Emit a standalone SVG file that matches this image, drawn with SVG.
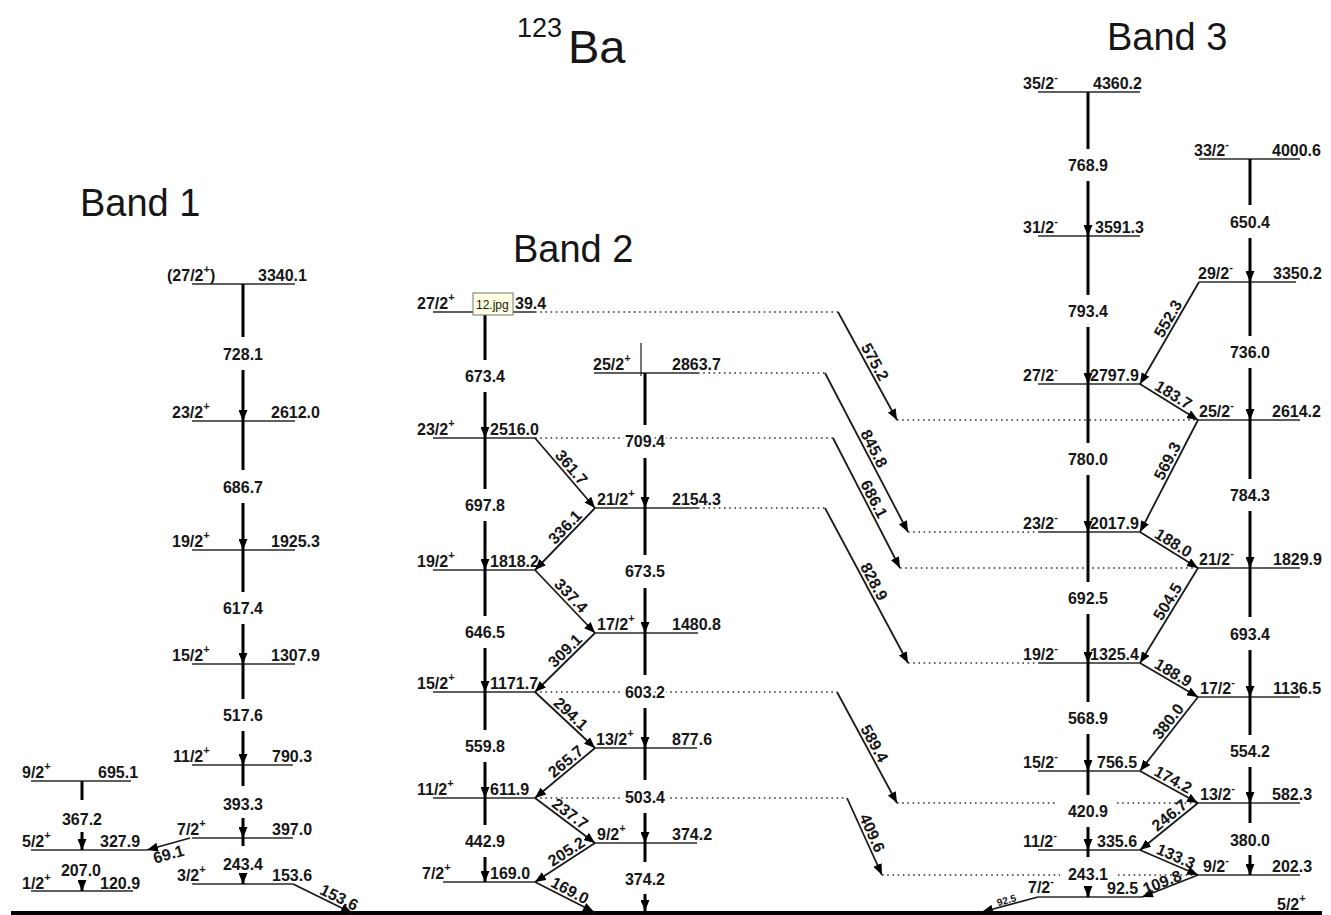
<svg xmlns="http://www.w3.org/2000/svg" width="1331" height="915" viewBox="0 0 1331 915">
<style>
text{font-family:"Liberation Sans",Arial,sans-serif;font-size:16px;font-weight:bold;fill:#161616}
.m{text-anchor:middle}
.s{font-size:11px}
.lv{stroke:#2a2a2a;stroke-width:1.6}
.tr{stroke:#000;stroke-width:3}
.dg{stroke:#1a1a1a;stroke-width:1.8}
.dt{stroke:#333;stroke-width:1.4;stroke-dasharray:1.6 3.6}
.h{stroke:#fff;stroke-width:5px;paint-order:stroke;stroke-linejoin:round}
.band{font-size:38px;font-weight:normal}
</style>
<defs>
<marker id="a" markerUnits="userSpaceOnUse" markerWidth="11" markerHeight="9" viewBox="0 0 11 9" refX="11" refY="4.5" orient="auto"><path d="M0,0L11,4.5L0,9z" fill="#000"/></marker>
</defs>
<rect width="1331" height="915" fill="#fff"/>

<g id="title"><text x="517" y="37" style="font-size:27px;font-weight:normal">123</text><text x="568" y="63" style="font-size:47px;font-weight:normal">Ba</text></g>
<g id="band-labels"><text class="band" x="80" y="216">Band 1</text><text class="band" x="513" y="262">Band 2</text><text class="band" x="1107" y="50">Band 3</text></g>

<g id="ground"><line x1="11" y1="913" x2="1322" y2="913" stroke="#000" stroke-width="4"/><text x="1277" y="910">5/2<tspan class="s" dy="-8">+</tspan></text></g>

<!-- Band 1 levels -->
<g id="lv-b1-3340"><line class="lv" x1="192" y1="284" x2="295" y2="284"/><text x="167" y="281">(27/2<tspan class="s" dy="-8">+</tspan><tspan dy="8">)</tspan></text><text x="258" y="281">3340.1</text></g>
<g id="lv-b1-2612"><line class="lv" x1="192" y1="421" x2="295" y2="421"/><text x="172" y="418">23/2<tspan class="s" dy="-8">+</tspan></text><text x="271" y="418">2612.0</text></g>
<g id="lv-b1-1925"><line class="lv" x1="192" y1="550" x2="295" y2="550"/><text x="172" y="547">19/2<tspan class="s" dy="-8">+</tspan></text><text x="271" y="547">1925.3</text></g>
<g id="lv-b1-1308"><line class="lv" x1="192" y1="664" x2="295" y2="664"/><text x="172" y="661">15/2<tspan class="s" dy="-8">+</tspan></text><text x="271" y="661">1307.9</text></g>
<g id="lv-b1-790"><line class="lv" x1="192" y1="765" x2="293" y2="765"/><text x="173" y="762">11/2<tspan class="s" dy="-8">+</tspan></text><text x="272" y="762">790.3</text></g>
<g id="lv-b1-397"><line class="lv" x1="192" y1="838" x2="293" y2="838"/><text x="177" y="835">7/2<tspan class="s" dy="-8">+</tspan></text><text x="272" y="835">397.0</text></g>
<g id="lv-b1-154"><line class="lv" x1="192" y1="884" x2="293" y2="884"/><text x="177" y="881">3/2<tspan class="s" dy="-8">+</tspan></text><text x="272" y="881">153.6</text></g>
<g id="lv-b1-695"><line class="lv" x1="31" y1="781" x2="131" y2="781"/><text x="22" y="778">9/2<tspan class="s" dy="-8">+</tspan></text><text x="98" y="778">695.1</text></g>
<g id="lv-b1-328"><line class="lv" x1="31" y1="850" x2="147" y2="850"/><text x="22" y="847">5/2<tspan class="s" dy="-8">+</tspan></text><text x="100" y="847">327.9</text></g>
<g id="lv-b1-121"><line class="lv" x1="31" y1="891" x2="133" y2="891"/><text x="22" y="889">1/2<tspan class="s" dy="-8">+</tspan></text><text x="100" y="889">120.9</text></g>

<!-- Band 2 levels -->
<g id="lv-b2-3039"><line class="lv" x1="433" y1="312" x2="535" y2="312"/><text x="417" y="309">27/2<tspan class="s" dy="-8">+</tspan></text><text x="515" y="309">39.4</text></g>
<g id="lv-b2-2516"><line class="lv" x1="433" y1="438" x2="535" y2="438"/><text x="417" y="435">23/2<tspan class="s" dy="-8">+</tspan></text><text x="490" y="435">2516.0</text></g>
<g id="lv-b2-1818"><line class="lv" x1="433" y1="570" x2="535" y2="570"/><text x="417" y="567">19/2<tspan class="s" dy="-8">+</tspan></text><text x="490" y="567">1818.2</text></g>
<g id="lv-b2-1172"><line class="lv" x1="433" y1="692" x2="535" y2="692"/><text x="417" y="689">15/2<tspan class="s" dy="-8">+</tspan></text><text x="490" y="689">1171.7</text></g>
<g id="lv-b2-612"><line class="lv" x1="433" y1="798" x2="535" y2="798"/><text x="417" y="795">11/2<tspan class="s" dy="-8">+</tspan></text><text x="490" y="795">611.9</text></g>
<g id="lv-b2-169"><line class="lv" x1="443" y1="882" x2="535" y2="882"/><text x="422" y="879">7/2<tspan class="s" dy="-8">+</tspan></text><text x="490" y="879">169.0</text></g>
<g id="lv-b2-2864"><line class="lv" x1="594" y1="373" x2="698" y2="373"/><line stroke="#1a1a1a" stroke-width="1.2" x1="641" y1="343" x2="641" y2="376"/><text x="593" y="370">25/2<tspan class="s" dy="-8">+</tspan></text><text x="672" y="370">2863.7</text></g>
<g id="lv-b2-2154"><line class="lv" x1="595" y1="508" x2="698" y2="508"/><text x="597" y="505">21/2<tspan class="s" dy="-8">+</tspan></text><text x="672" y="505">2154.3</text></g>
<g id="lv-b2-1481"><line class="lv" x1="595" y1="633" x2="698" y2="633"/><text x="597" y="630">17/2<tspan class="s" dy="-8">+</tspan></text><text x="672" y="630">1480.8</text></g>
<g id="lv-b2-878"><line class="lv" x1="595" y1="748" x2="697" y2="748"/><text x="596" y="745">13/2<tspan class="s" dy="-8">+</tspan></text><text x="672" y="745">877.6</text></g>
<g id="lv-b2-374"><line class="lv" x1="595" y1="843" x2="697" y2="843"/><text x="597" y="840">9/2<tspan class="s" dy="-8">+</tspan></text><text x="672" y="840">374.2</text></g>

<!-- Band 3 levels -->
<g id="lv-b3-4360"><line class="lv" x1="1038" y1="92" x2="1140" y2="92"/><text x="1023" y="89">35/2<tspan class="s" dy="-8">-</tspan></text><text x="1093" y="89">4360.2</text></g>
<g id="lv-b3-3591"><line class="lv" x1="1038" y1="236" x2="1140" y2="236"/><text x="1023" y="233">31/2<tspan class="s" dy="-8">-</tspan></text><text x="1095" y="233">3591.3</text></g>
<g id="lv-b3-2798"><line class="lv" x1="1038" y1="384" x2="1140" y2="384"/><text x="1023" y="381">27/2<tspan class="s" dy="-8">-</tspan></text><text x="1090" y="381">2797.9</text></g>
<g id="lv-b3-2018"><line class="lv" x1="1038" y1="532" x2="1140" y2="532"/><text x="1023" y="529">23/2<tspan class="s" dy="-8">-</tspan></text><text x="1090" y="529">2017.9</text></g>
<g id="lv-b3-1325"><line class="lv" x1="1038" y1="663" x2="1140" y2="663"/><text x="1023" y="660">19/2<tspan class="s" dy="-8">-</tspan></text><text x="1090" y="660">1325.4</text></g>
<g id="lv-b3-757"><line class="lv" x1="1038" y1="771" x2="1140" y2="771"/><text x="1023" y="768">15/2<tspan class="s" dy="-8">-</tspan></text><text x="1097" y="768">756.5</text></g>
<g id="lv-b3-336"><line class="lv" x1="1038" y1="850" x2="1140" y2="850"/><text x="1023" y="847">11/2<tspan class="s" dy="-8">-</tspan></text><text x="1097" y="847">335.6</text></g>
<g id="lv-b3-93"><line class="lv" x1="1038" y1="897" x2="1142" y2="897"/><text x="1028" y="893">7/2<tspan class="s" dy="-8">-</tspan></text><text x="1107" y="894">92.5</text></g>
<g id="lv-b3-4001"><line class="lv" x1="1199" y1="159" x2="1300" y2="159"/><text x="1194" y="156">33/2<tspan class="s" dy="-8">-</tspan></text><text x="1272" y="156">4000.6</text></g>
<g id="lv-b3-3350"><line class="lv" x1="1199" y1="282" x2="1296" y2="282"/><text x="1198" y="279">29/2<tspan class="s" dy="-8">-</tspan></text><text x="1273" y="279">3350.2</text></g>
<g id="lv-b3-2614"><line class="lv" x1="1198" y1="420" x2="1300" y2="420"/><text x="1199" y="417">25/2<tspan class="s" dy="-8">-</tspan></text><text x="1272" y="417">2614.2</text></g>
<g id="lv-b3-1830"><line class="lv" x1="1198" y1="568" x2="1300" y2="568"/><text x="1199" y="565">21/2<tspan class="s" dy="-8">-</tspan></text><text x="1273" y="565">1829.9</text></g>
<g id="lv-b3-1137"><line class="lv" x1="1198" y1="697" x2="1300" y2="697"/><text x="1200" y="694">17/2<tspan class="s" dy="-8">-</tspan></text><text x="1273" y="694">1136.5</text></g>
<g id="lv-b3-582"><line class="lv" x1="1198" y1="803" x2="1300" y2="803"/><text x="1200" y="800">13/2<tspan class="s" dy="-8">-</tspan></text><text x="1272" y="800">582.3</text></g>
<g id="lv-b3-202"><line class="lv" x1="1198" y1="875" x2="1300" y2="875"/><text x="1203" y="872">9/2<tspan class="s" dy="-8">-</tspan></text><text x="1272" y="872">202.3</text></g>

<g id="connectors">
<!-- dotted level continuations -->
<line class="dt" x1="535" y1="312" x2="838" y2="312"/>
<line class="dt" x1="698" y1="373" x2="825" y2="373"/>
<line class="dt" x1="535" y1="438" x2="833" y2="438"/>
<line class="dt" x1="698" y1="508" x2="825" y2="508"/>
<line class="dt" x1="535" y1="692" x2="837" y2="692"/>
<line class="dt" x1="535" y1="798" x2="847" y2="798"/>
<line class="dt" x1="897" y1="420" x2="1196" y2="420"/>
<line class="dt" x1="908" y1="532" x2="1038" y2="532"/>
<line class="dt" x1="900" y1="568" x2="1196" y2="568"/>
<line class="dt" x1="908" y1="663" x2="1038" y2="663"/>
<line class="dt" x1="897" y1="803" x2="1058" y2="803"/>
<line class="dt" x1="1117" y1="803" x2="1196" y2="803"/>
<line class="dt" x1="882" y1="875" x2="1060" y2="875"/>
<line class="dt" x1="1118" y1="875" x2="1196" y2="875"/>

<!-- Band 1 verticals -->
<line class="tr" x1="243" y1="284" x2="243" y2="337"/><line class="tr" x1="243" y1="370" x2="243" y2="421" marker-end="url(#a)"/><text class="m" x="243" y="360">728.1</text>
<line class="tr" x1="243" y1="421" x2="243" y2="470"/><line class="tr" x1="243" y1="503" x2="243" y2="550" marker-end="url(#a)"/><text class="m" x="243" y="493">686.7</text>
<line class="tr" x1="243" y1="550" x2="243" y2="592"/><line class="tr" x1="243" y1="624" x2="243" y2="664" marker-end="url(#a)"/><text class="m" x="243" y="614">617.4</text>
<line class="tr" x1="243" y1="664" x2="243" y2="699"/><line class="tr" x1="243" y1="731" x2="243" y2="765" marker-end="url(#a)"/><text class="m" x="243" y="721">517.6</text>
<line class="tr" x1="243" y1="765" x2="243" y2="786"/><line class="tr" x1="243" y1="818" x2="243" y2="838" marker-end="url(#a)"/><text class="m" x="243" y="810">393.3</text>
<line class="tr" x1="243" y1="838" x2="243" y2="846"/><line class="tr" x1="243" y1="877" x2="243" y2="884" marker-end="url(#a)"/><text class="m" x="243" y="870">243.4</text>
<line class="tr" x1="82" y1="781" x2="82" y2="800"/><line class="tr" x1="82" y1="832" x2="82" y2="850" marker-end="url(#a)"/><text class="m" x="82" y="825">367.2</text>
<line class="tr" x1="82" y1="883" x2="82" y2="891" marker-end="url(#a)"/><text class="m" x="81" y="876">207.0</text>
<line class="dg" x1="190" y1="838" x2="147" y2="850" marker-end="url(#a)"/><text class="m" transform="translate(166,845) rotate(-15.6)" y="15">69.1</text>
<line class="dg" x1="293" y1="884" x2="352" y2="913" marker-end="url(#a)"/><text class="m" transform="translate(335.5,905) rotate(26.2)" y="-3">153.6</text>

<!-- Band 2 verticals -->
<line class="tr" x1="485" y1="312" x2="485" y2="360"/><line class="tr" x1="485" y1="392" x2="485" y2="438" marker-end="url(#a)"/><text class="m" x="485" y="382">673.4</text>
<line class="tr" x1="485" y1="438" x2="485" y2="489"/><line class="tr" x1="485" y1="521" x2="485" y2="570" marker-end="url(#a)"/><text class="m" x="485" y="511">697.8</text>
<line class="tr" x1="485" y1="570" x2="485" y2="616"/><line class="tr" x1="485" y1="648" x2="485" y2="692" marker-end="url(#a)"/><text class="m" x="485" y="638">646.5</text>
<line class="tr" x1="485" y1="692" x2="485" y2="730"/><line class="tr" x1="485" y1="762" x2="485" y2="798" marker-end="url(#a)"/><text class="m" x="485" y="752">559.8</text>
<line class="tr" x1="485" y1="798" x2="485" y2="825"/><line class="tr" x1="485" y1="857" x2="485" y2="882" marker-end="url(#a)"/><text class="m" x="485" y="847">442.9</text>
<line class="tr" x1="645" y1="373" x2="645" y2="425"/><line class="tr" x1="645" y1="458" x2="645" y2="508" marker-end="url(#a)"/><text class="m h" x="645" y="447">709.4</text>
<line class="tr" x1="645" y1="508" x2="645" y2="555"/><line class="tr" x1="645" y1="588" x2="645" y2="633" marker-end="url(#a)"/><text class="m" x="645" y="577">673.5</text>
<line class="tr" x1="645" y1="633" x2="645" y2="675"/><line class="tr" x1="645" y1="708" x2="645" y2="748" marker-end="url(#a)"/><text class="m h" x="645" y="698">603.2</text>
<line class="tr" x1="645" y1="748" x2="645" y2="780"/><line class="tr" x1="645" y1="813" x2="645" y2="843" marker-end="url(#a)"/><text class="m h" x="645" y="803">503.4</text>
<line class="tr" x1="645" y1="843" x2="645" y2="862"/><line class="tr" x1="645" y1="894" x2="645" y2="911" marker-end="url(#a)"/><text class="m" x="645" y="885">374.2</text>

<!-- Band 2 diagonals -->
<line class="dg" x1="535" y1="438" x2="595" y2="508" marker-end="url(#a)"/><text class="m" transform="translate(565,473) rotate(49.4)" y="-3">361.7</text>
<line class="dg" x1="595" y1="508" x2="535" y2="570" marker-end="url(#a)"/><text class="m" transform="translate(571,533) rotate(-45.9)" y="-3">336.1</text>
<line class="dg" x1="535" y1="570" x2="595" y2="633" marker-end="url(#a)"/><text class="m" transform="translate(565,601.5) rotate(46.4)" y="-3">337.4</text>
<line class="dg" x1="595" y1="633" x2="535" y2="692" marker-end="url(#a)"/><text class="m" transform="translate(571,656.6) rotate(-44.5)" y="-3">309.1</text>
<line class="dg" x1="535" y1="692" x2="595" y2="748" marker-end="url(#a)"/><text class="m" transform="translate(565,720) rotate(43)" y="-3">294.1</text>
<line class="dg" x1="595" y1="748" x2="535" y2="798" marker-end="url(#a)"/><text class="m" transform="translate(571,768) rotate(-39.8)" y="-3">265.7</text>
<line class="dg" x1="535" y1="798" x2="595" y2="843" marker-end="url(#a)"/><text class="m" transform="translate(565,820.5) rotate(36.9)" y="-3">237.7</text>
<line class="dg" x1="595" y1="843" x2="535" y2="882" marker-end="url(#a)"/><text class="m" transform="translate(571,858.6) rotate(-33)" y="-3">205.2</text>
<line class="dg" x1="535" y1="882" x2="594" y2="912" marker-end="url(#a)"/><text class="m" transform="translate(566,898) rotate(28.1)" y="-3">169.0</text>

<!-- Cross-band -->
<line class="dg" x1="838" y1="312" x2="897" y2="420" marker-end="url(#a)"/><text class="m" transform="translate(867.5,366) rotate(61.4)" y="-3">575.2</text>
<line class="dg" x1="825" y1="373" x2="908" y2="532" marker-end="url(#a)"/><text class="m" transform="translate(866.5,452.5) rotate(62.4)" y="-3">845.8</text>
<line class="dg" x1="833" y1="438" x2="900" y2="568" marker-end="url(#a)"/><text class="m" transform="translate(866.5,503) rotate(62.6)" y="-3">686.1</text>
<line class="dg" x1="825" y1="508" x2="908" y2="663" marker-end="url(#a)"/><text class="m" transform="translate(866.5,585.5) rotate(61.8)" y="-3">828.9</text>
<line class="dg" x1="837" y1="692" x2="897" y2="803" marker-end="url(#a)"/><text class="m" transform="translate(867,747.5) rotate(61.6)" y="-3">589.4</text>
<line class="dg" x1="847" y1="798" x2="882" y2="875" marker-end="url(#a)"/><text class="m" transform="translate(864.5,836.5) rotate(65.6)" y="-3">409.6</text>

<!-- Band 3 verticals -->
<line class="tr" x1="1088" y1="92" x2="1088" y2="149"/><line class="tr" x1="1088" y1="181" x2="1088" y2="236" marker-end="url(#a)"/><text class="m" x="1088" y="171">768.9</text>
<line class="tr" x1="1088" y1="236" x2="1088" y2="295"/><line class="tr" x1="1088" y1="327" x2="1088" y2="384" marker-end="url(#a)"/><text class="m" x="1088" y="317">793.4</text>
<line class="tr" x1="1088" y1="384" x2="1088" y2="443"/><line class="tr" x1="1088" y1="475" x2="1088" y2="532" marker-end="url(#a)"/><text class="m" x="1088" y="465">780.0</text>
<line class="tr" x1="1088" y1="532" x2="1088" y2="582"/><line class="tr" x1="1088" y1="614" x2="1088" y2="663" marker-end="url(#a)"/><text class="m" x="1088" y="604">692.5</text>
<line class="tr" x1="1088" y1="663" x2="1088" y2="702"/><line class="tr" x1="1088" y1="734" x2="1088" y2="771" marker-end="url(#a)"/><text class="m" x="1088" y="724">568.9</text>
<line class="tr" x1="1088" y1="771" x2="1088" y2="795"/><line class="tr" x1="1088" y1="827" x2="1088" y2="850" marker-end="url(#a)"/><text class="m" x="1088" y="817">420.9</text>
<line class="tr" x1="1088" y1="850" x2="1088" y2="857"/><line class="tr" x1="1088" y1="886" x2="1088" y2="897" marker-end="url(#a)"/><text class="m" x="1088" y="880">243.1</text>
<line class="tr" x1="1250" y1="159" x2="1250" y2="205"/><line class="tr" x1="1250" y1="238" x2="1250" y2="282" marker-end="url(#a)"/><text class="m" x="1250" y="228">650.4</text>
<line class="tr" x1="1250" y1="282" x2="1250" y2="336"/><line class="tr" x1="1250" y1="368" x2="1250" y2="420" marker-end="url(#a)"/><text class="m" x="1250" y="358">736.0</text>
<line class="tr" x1="1250" y1="420" x2="1250" y2="479"/><line class="tr" x1="1250" y1="511" x2="1250" y2="568" marker-end="url(#a)"/><text class="m" x="1250" y="501">784.3</text>
<line class="tr" x1="1250" y1="568" x2="1250" y2="617"/><line class="tr" x1="1250" y1="650" x2="1250" y2="697" marker-end="url(#a)"/><text class="m" x="1250" y="640">693.4</text>
<line class="tr" x1="1250" y1="697" x2="1250" y2="735"/><line class="tr" x1="1250" y1="767" x2="1250" y2="803" marker-end="url(#a)"/><text class="m" x="1250" y="757">554.2</text>
<line class="tr" x1="1250" y1="803" x2="1250" y2="823"/><line class="tr" x1="1250" y1="855" x2="1250" y2="875" marker-end="url(#a)"/><text class="m" x="1250" y="846">380.0</text>

<!-- Band 3 diagonals -->
<line class="dg" x1="1199" y1="282" x2="1140" y2="384" marker-end="url(#a)"/><text class="m" transform="translate(1175.4,322.8) rotate(-60)" y="-3">552.3</text>
<line class="dg" x1="1140" y1="384" x2="1198" y2="420" marker-end="url(#a)"/><text class="m" transform="translate(1169,402) rotate(31.8)" y="-3">183.7</text>
<line class="dg" x1="1198" y1="420" x2="1140" y2="532" marker-end="url(#a)"/><text class="m" transform="translate(1174.8,464.8) rotate(-62.6)" y="-3">569.3</text>
<line class="dg" x1="1140" y1="532" x2="1198" y2="568" marker-end="url(#a)"/><text class="m" transform="translate(1169,550) rotate(31.8)" y="-3">188.0</text>
<line class="dg" x1="1198" y1="568" x2="1140" y2="663" marker-end="url(#a)"/><text class="m" transform="translate(1174.8,606) rotate(-58.6)" y="-3">504.5</text>
<line class="dg" x1="1140" y1="663" x2="1198" y2="697" marker-end="url(#a)"/><text class="m" transform="translate(1169,680) rotate(30.4)" y="-3">188.9</text>
<line class="dg" x1="1198" y1="697" x2="1140" y2="771" marker-end="url(#a)"/><text class="m" transform="translate(1174.8,726.6) rotate(-51.9)" y="-3">380.0</text>
<line class="dg" x1="1140" y1="771" x2="1198" y2="803" marker-end="url(#a)"/><text class="m" transform="translate(1169,787) rotate(28.9)" y="-3">174.2</text>
<line class="dg" x1="1198" y1="803" x2="1140" y2="850" marker-end="url(#a)"/><text class="m" transform="translate(1174.8,821.8) rotate(-39)" y="-3">246.7</text>
<line class="dg" x1="1140" y1="850" x2="1198" y2="875" marker-end="url(#a)"/><text class="m" transform="translate(1172.5,864) rotate(23.3)" y="-3">133.3</text>
<line class="dg" x1="1198" y1="875" x2="1142" y2="897" marker-end="url(#a)"/><text class="m" transform="translate(1164.4,888.2) rotate(-21.4)" y="-1">109.8</text>
<line class="dg" x1="1038" y1="897" x2="982" y2="912" marker-end="url(#a)"/><text class="m" transform="translate(1008,905.5) rotate(-16)" y="-2" style="font-size:10px">92.5</text>
</g>

<g id="tooltip"><rect x="473" y="293" width="40" height="22" fill="#ffffe1" stroke="#767676" stroke-width="1"/><text x="476" y="309" style="font-size:12px;font-weight:normal">12.jpg</text></g>
</svg>
